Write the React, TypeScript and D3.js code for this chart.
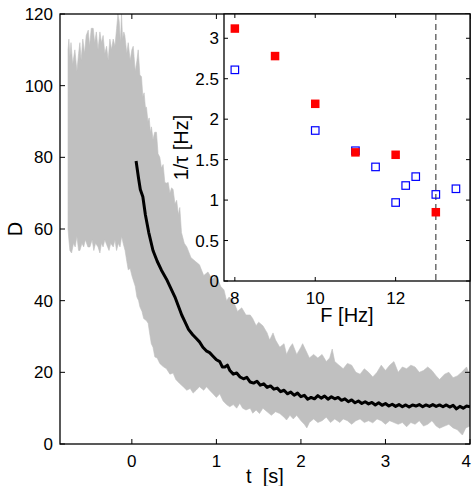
import React from "react";
import * as d3 from "d3";

// ---------- main panel: envelope of the gray single-trial traces ----------
const bandUpT = [
  -0.755, -0.745, -0.733, -0.72, -0.7, -0.674, -0.65, -0.63, -0.615, -0.6, -0.58, -0.56, -0.54, -0.516,
  -0.5, -0.48, -0.457, -0.44, -0.42, -0.4, -0.378, -0.36, -0.34, -0.32, -0.299, -0.28, -0.26, -0.24,
  -0.221, -0.2, -0.18, -0.165, -0.15, -0.135, -0.122, -0.11, -0.095, -0.083, -0.06, -0.043, -0.02, 0.0,
  0.016, 0.04, 0.06, 0.075, 0.095, 0.114, 0.13, 0.145, 0.16, 0.173, 0.19, 0.205, 0.22, 0.232, 0.25,
  0.27, 0.291, 0.31, 0.331, 0.35, 0.37, 0.39, 0.41, 0.43, 0.45, 0.47, 0.488, 0.51, 0.53, 0.55, 0.567,
  0.587, 0.62, 0.65, 0.7, 0.75, 0.8, 0.85, 0.9, 0.95, 1.0, 1.05, 1.09, 1.12, 1.15, 1.2, 1.25, 1.3,
  1.35, 1.4, 1.43, 1.47, 1.5, 1.55, 1.6, 1.63, 1.67, 1.7, 1.75, 1.8, 1.83, 1.87, 1.9, 1.95, 2.0, 2.02,
  2.06, 2.1, 2.15, 2.2, 2.25, 2.3, 2.34, 2.37, 2.4, 2.45, 2.5, 2.55, 2.6, 2.65, 2.7, 2.75, 2.8, 2.85,
  2.9, 2.95, 3.0, 3.05, 3.1, 3.15, 3.2, 3.25, 3.3, 3.35, 3.4, 3.45, 3.5, 3.55, 3.6, 3.64, 3.7, 3.75,
  3.8, 3.85, 3.9, 3.96, 4.0,
];
const bandUpD = [
  110, 113, 108, 112, 106, 110, 104, 109, 112, 107, 113, 109, 114, 115.5,
  111, 116, 116, 112, 115, 110, 115, 112, 114, 109, 111, 107, 113, 110,
  113, 111, 116, 120, 118, 112, 120, 113, 115, 114, 109, 112, 107, 110,
  111, 104, 107, 110, 103, 102.5, 97, 98, 94, 94, 90, 91, 87, 88.5, 85,
  87, 87, 81, 80, 77, 78, 73, 72.8, 73, 70, 71.5, 71, 67, 68, 64, 66,
  59, 56, 55, 52, 51, 50, 47, 48, 46, 47, 44, 43, 40, 41, 40, 37, 38,
  36, 36, 35, 33, 34, 33, 31, 29, 31, 29, 27, 28, 25, 27, 28, 25, 27, 28,
  26, 24, 25, 24, 25, 23, 24, 26.5, 23, 22, 21, 22.5, 22, 20, 19.5, 21, 20, 18.7,
  20, 22, 20.5, 22, 23, 20, 21.5, 21, 22, 21.5, 20, 20.5, 21.5, 20.5, 19, 18, 19.5, 20,
  18.5, 19, 20, 21.5, 19,
];
const bandLoT = [
  -0.755, -0.745, -0.733, -0.713, -0.69, -0.67, -0.65, -0.63, -0.615, -0.59, -0.57, -0.55, -0.52, -0.496,
  -0.47, -0.45, -0.43, -0.4, -0.378, -0.36, -0.34, -0.32, -0.299, -0.27, -0.25, -0.22, -0.2, -0.181,
  -0.16, -0.14, -0.12, -0.103, -0.08, -0.06, -0.043, -0.02, 0.0, 0.016, 0.04, 0.06, 0.08, 0.095, 0.12,
  0.14, 0.17, 0.193, 0.21, 0.23, 0.25, 0.272, 0.3, 0.33, 0.37, 0.41, 0.45, 0.488, 0.52, 0.56, 0.607,
  0.65, 0.69, 0.725, 0.76, 0.8, 0.85, 0.883, 0.92, 0.96, 1.0, 1.04, 1.08, 1.12, 1.158, 1.2, 1.24, 1.277,
  1.31, 1.35, 1.4, 1.43, 1.47, 1.51, 1.55, 1.6, 1.65, 1.7, 1.75, 1.8, 1.83, 1.87, 1.91, 1.95, 2.0, 2.04,
  2.07, 2.1, 2.15, 2.2, 2.25, 2.3, 2.35, 2.4, 2.46, 2.5, 2.55, 2.6, 2.65, 2.7, 2.75, 2.8, 2.85, 2.9,
  2.95, 3.0, 3.05, 3.1, 3.15, 3.2, 3.25, 3.3, 3.35, 3.4, 3.45, 3.5, 3.55, 3.6, 3.64, 3.7, 3.75, 3.8,
  3.85, 3.91, 3.95, 4.0,
];
const bandLoD = [
  60, 57, 54, 53.3, 56, 55, 58, 54, 54, 56, 55, 57, 55, 55,
  57, 54, 56, 55, 53.3, 56, 55, 57, 55.7, 54, 56, 55, 57, 54,
  56, 55, 58, 56, 54, 51, 48.6, 49, 47, 45.8, 44, 41, 40, 38.3, 37,
  35, 34.5, 33.7, 31, 28, 27, 24.3, 24, 22.5, 21.6, 21, 19.5, 19.8, 18, 17, 16,
  15, 15.5, 14.2, 15, 16, 15, 16, 15, 14, 13, 14, 12, 11, 10.4, 11, 10, 11.4,
  10, 9.5, 10, 8.6, 9.5, 8.5, 10, 9, 8, 9, 8.5, 7.5, 6.7, 8, 7, 8, 6.5, 5.5,
  4.5, 6, 7, 6, 6.5, 7.5, 6, 7, 6, 7, 6.5, 5.5, 6.5, 7, 6, 6.5, 5.9, 7,
  6.5, 5.5, 6.5, 6, 5.5, 6, 4.8, 6, 5.5, 6.5, 5, 5.5, 6.5, 5, 4.4, 5, 5.5, 4.5,
  4, 2.5, 4.5, 5,
];

// ---------- main panel: trial-averaged trace (black) ----------
const meanT = [
  0.05, 0.08, 0.1, 0.13, 0.16, 0.2, 0.25, 0.3, 0.35, 0.41, 0.46, 0.51, 0.55, 0.59, 0.63, 0.67, 0.72,
  0.76, 0.8, 0.84, 0.88, 0.92, 0.96, 1.0, 1.04, 1.07, 1.1, 1.13, 1.16, 1.2, 1.24, 1.28, 1.32, 1.36,
  1.4, 1.44, 1.48, 1.52, 1.56, 1.6, 1.64, 1.68, 1.72, 1.76, 1.8, 1.84, 1.88, 1.92, 1.96, 2.0, 2.04,
  2.08, 2.12, 2.16, 2.2, 2.24, 2.28, 2.32, 2.36, 2.4, 2.44, 2.48, 2.52, 2.56, 2.6, 2.64, 2.68, 2.72,
  2.76, 2.8, 2.84, 2.88, 2.92, 2.96, 3.0, 3.04, 3.08, 3.12, 3.16, 3.2, 3.24, 3.28, 3.32, 3.36, 3.4,
  3.44, 3.48, 3.52, 3.56, 3.6, 3.64, 3.68, 3.72, 3.76, 3.8, 3.84, 3.88, 3.92, 3.96, 4.0,
];
const meanD = [
  79, 74, 71, 69, 64, 59, 54, 51, 48.5, 46, 43.5, 41, 38.5, 36, 34, 32, 30.5,
  29.5, 28.5, 27, 26, 25.5, 24.5, 23.5, 23, 21.5, 21.5, 22, 20.5, 19.5, 19.8, 18.7, 18.2, 18.6,
  17.3, 17.0, 17.5, 16.4, 16.8, 15.8, 16.2, 15.3, 15.6, 14.6, 15.0, 14.0, 14.5, 13.6, 14.2, 13.2, 13.6,
  12.5, 13.0, 12.6, 13.5, 12.8, 13.4, 12.5, 13.2, 12.6, 13.0, 12.2, 12.6, 11.8, 12.3, 11.5, 12.0, 11.3,
  11.8, 11.2, 11.6, 10.9, 11.5, 10.8, 11.3, 10.6, 11.1, 10.5, 11.0, 10.4, 10.9, 10.3, 10.9, 10.6, 11.0,
  10.4, 10.9, 10.5, 11.0, 10.5, 10.9, 10.4, 10.9, 10.3, 10.8, 9.8, 10.5, 10.0, 10.6, 10.4,
];

const tTicks = [0, 1, 2, 3, 4];
const dTicks = [0, 20, 40, 60, 80, 100, 120];

// ---------- inset: 1/tau vs F ----------
const fFilled = [8, 9, 10, 11, 12, 13];
const tauFilled = [3.12, 2.78, 2.19, 1.59, 1.56, 0.85];
const fOpen = [8, 10, 11, 11.5, 12, 12.25, 12.5, 13, 13.5];
const tauOpen = [2.61, 1.86, 1.61, 1.41, 0.97, 1.18, 1.29, 1.07, 1.14];
const fTicks = [8, 10, 12];
const invTauTicks = [0, 0.5, 1, 1.5, 2, 2.5, 3];
const cutoffF = [13];

const FONT = "'Liberation Sans', Arial, Helvetica, sans-serif";

export default function App() {
  const W = 472;
  const H = 486;
  const m = { l: 60, r: 470, t: 14, b: 444 };
  const ins = { l: 224, r: 470, t: 14, b: 281 };

  const x = d3.scaleLinear().domain([-0.85, 4]).range([m.l, m.r]);
  const y = d3.scaleLinear().domain([0, 120]).range([m.b, m.t]);
  const fx = d3.scaleLinear().domain([7.73, 13.85]).range([ins.l, ins.r]);
  const fy = d3.scaleLinear().domain([0, 3.3]).range([ins.b, ins.t]);

  const up = bandUpT.map((t, i) => [t, bandUpD[i]] as [number, number]);
  const lo = bandLoT.map((t, i) => [t, bandLoD[i]] as [number, number]);
  const poly = [...up, ...lo.slice().reverse()];
  const line = d3
    .line<[number, number]>()
    .x((d) => x(d[0]))
    .y((d) => y(d[1]));
  const bandPath = line(poly) + "Z";
  const meanPath = line(meanT.map((t, i) => [t, meanD[i]] as [number, number]));

  const tk = 5;
  const tki = 4;
  const fmt = (v: number) => String(v);
  const sq = 7.5;

  return (
    <div style={{ position: "absolute", left: 0, top: 0 }}>
      <svg width={W} height={H} style={{ display: "block", fontFamily: FONT }}>
        <rect width={W} height={H} fill="#fff" />
        <defs>
          <clipPath id="mainClip">
            <rect x={m.l} y={m.t} width={m.r - m.l} height={m.b - m.t} />
          </clipPath>
        </defs>
        <g clipPath="url(#mainClip)">
          <path d={bandPath} fill="#c0c0c0" stroke="#c0c0c0" strokeWidth={0.6} />
          <path d={meanPath || ""} fill="none" stroke="#000" strokeWidth={3} strokeLinejoin="round" />
        </g>
        {/* main axes box */}
        <rect x={m.l} y={m.t} width={m.r - m.l} height={m.b - m.t} fill="none" stroke="#000" strokeWidth={1.3} />
        {tTicks.map((t, i) => {
          const last = i === tTicks.length - 1;
          return (
            <g key={"tx" + t}>
              <line x1={x(t)} x2={x(t)} y1={m.b} y2={m.b - tk} stroke="#000" strokeWidth={1} />
              <line x1={x(t)} x2={x(t)} y1={m.t} y2={m.t + tk} stroke="#000" strokeWidth={1} />
              <text
                x={last ? W - 1 : x(t)}
                y={m.b + 22.5}
                fontSize={17}
                textAnchor={last ? "end" : "middle"}
                fill="#000"
              >
                {fmt(t)}
              </text>
            </g>
          );
        })}
        {dTicks.map((d) => (
          <g key={"dy" + d}>
            <line x1={m.l} x2={m.l + tk} y1={y(d)} y2={y(d)} stroke="#000" strokeWidth={1} />
            <line x1={m.r} x2={m.r - tk} y1={y(d)} y2={y(d)} stroke="#000" strokeWidth={1} />
            <text x={m.l - 7} y={y(d) + 6} fontSize={17} textAnchor="end" fill="#000">
              {fmt(d)}
            </text>
          </g>
        ))}
        <text x={(m.l + m.r) / 2} y={483} fontSize={20} textAnchor="middle" style={{ whiteSpace: "pre" }}>
          {"t  [s]"}
        </text>
        <text transform={`translate(22,${(m.t + m.b) / 2}) rotate(-90)`} fontSize={20} textAnchor="middle">
          D
        </text>

        {/* inset */}
        <rect x={ins.l} y={ins.t} width={ins.r - ins.l} height={ins.b - ins.t} fill="#fff" />
        {cutoffF.map((f) => (
          <line
            key={"cut" + f}
            x1={fx(f)}
            x2={fx(f)}
            y1={ins.t}
            y2={ins.b}
            stroke="#555"
            strokeWidth={1.3}
            strokeDasharray="6,4"
          />
        ))}
        {fOpen.map((f, i) => (
          <rect
            key={"o" + i}
            x={fx(f) - sq / 2}
            y={fy(tauOpen[i]) - sq / 2}
            width={sq}
            height={sq}
            fill="none"
            stroke="#0000ff"
            strokeWidth={1.2}
          />
        ))}
        {fFilled.map((f, i) => (
          <rect
            key={"f" + i}
            x={fx(f) - sq / 2 - 0.5}
            y={fy(tauFilled[i]) - sq / 2 - 0.5}
            width={sq + 1}
            height={sq + 1}
            fill="#ff0000"
          />
        ))}
        <rect x={ins.l} y={ins.t} width={ins.r - ins.l} height={ins.b - ins.t} fill="none" stroke="#000" strokeWidth={1.3} />
        {fTicks.map((f) => (
          <g key={"fx" + f}>
            <line x1={fx(f)} x2={fx(f)} y1={ins.b} y2={ins.b - tki} stroke="#000" strokeWidth={1} />
            <line x1={fx(f)} x2={fx(f)} y1={ins.t} y2={ins.t + tki} stroke="#000" strokeWidth={1} />
            <text x={fx(f)} y={ins.b + 22.5} fontSize={17} textAnchor="middle">
              {fmt(f)}
            </text>
          </g>
        ))}
        {invTauTicks.map((v) => (
          <g key={"iy" + v}>
            <line x1={ins.l} x2={ins.l + tki} y1={fy(v)} y2={fy(v)} stroke="#000" strokeWidth={1} />
            <line x1={ins.r} x2={ins.r - tki} y1={fy(v)} y2={fy(v)} stroke="#000" strokeWidth={1} />
            <text x={ins.l - 5} y={fy(v) + 6} fontSize={17} textAnchor="end">
              {fmt(v)}
            </text>
          </g>
        ))}
        <text x={(ins.l + ins.r) / 2} y={322} fontSize={20} textAnchor="middle">
          F [Hz]
        </text>
        <text transform={`translate(188,${(ins.t + ins.b) / 2}) rotate(-90)`} fontSize={20} textAnchor="middle">
          1/τ [Hz]
        </text>
      </svg>
    </div>
  );
}
